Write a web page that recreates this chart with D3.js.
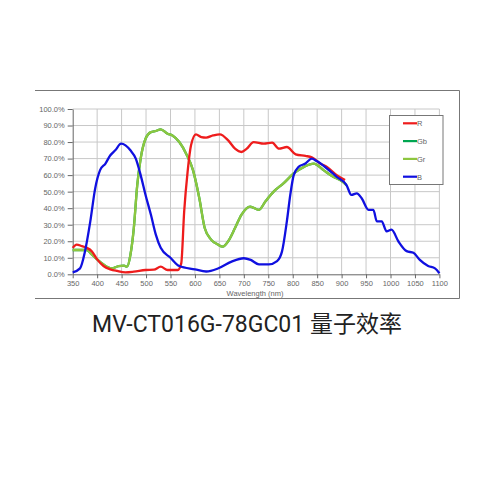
<!DOCTYPE html>
<html>
<head>
<meta charset="utf-8">
<script src="https://cdn.jsdelivr.net/npm/d3@7"></script>
<style>
  body { margin: 0; background: #fff; }
  svg { display: block; }
</style>
</head>
<body>
<div id="chart"></div>
<script>
const wavelengths = [350, 400, 450, 500, 550, 600, 650, 700, 750, 800, 850, 900, 950, 1000, 1050, 1100];
const yTicks = [0, 10, 20, 30, 40, 50, 60, 70, 80, 90, 100];

const blueNm  = [350, 365, 375, 386, 396, 406, 417, 427, 437, 449, 458, 468, 479, 489, 499, 510, 520, 530, 550, 568, 600, 623, 647, 675, 700, 714, 731, 751, 768, 778, 788, 795, 802, 812, 826, 839, 849, 870, 890, 910, 920, 931, 941, 955, 965, 972, 982, 992, 1002, 1016, 1033, 1047, 1060, 1077, 1091, 1100];
const blueQE  = [1.2, 3.6, 13.7, 32, 52, 63, 67, 72, 75, 79, 78, 75, 70, 60, 48, 36, 24, 16, 10, 5, 3, 1.7, 3.5, 7.7, 9.7, 8.7, 6, 6, 8, 13.7, 32, 48, 60, 65, 67, 70, 68.5, 64, 59, 54, 48, 49, 46, 39, 39, 32, 32, 26, 27, 20, 14, 13, 8.7, 5, 3.6, 0.6];

const redNm   = [350, 358, 369, 379, 389, 400, 413, 427, 441, 458, 475, 499, 516, 530, 544, 565, 572, 578, 585, 592, 602, 613, 623, 637, 651, 668, 682, 695, 706, 720, 741, 758, 772, 788, 806, 826, 839, 856, 870, 890, 907];
const redQE   = [16, 18, 17, 16, 14, 9, 5, 3, 2, 1.2, 1.6, 2.6, 2.8, 4.6, 2.6, 2.6, 6.6, 38, 62, 78, 84.7, 83, 82.7, 84, 84.7, 81, 76, 74, 76, 80, 79, 79.6, 76, 77, 72.6, 71.6, 70.8, 67, 65, 60, 57];

const grNm    = [350, 379, 389, 400, 420, 430, 444, 455, 461, 468, 475, 482, 489, 499, 510, 520, 530, 544, 554, 568, 582, 596, 609, 620, 633, 647, 657, 668, 682, 695, 713, 731, 744, 761, 781, 802, 823, 843, 863, 883, 897, 910];
const grQE    = [14.7, 14.7, 12, 9, 4.6, 3.6, 5, 5.2, 4.6, 11.7, 28, 54, 70, 82, 86, 86.7, 87.7, 85, 84, 80, 73, 63, 46, 28, 21, 18, 16.7, 20, 28, 36, 41, 39, 44, 50, 55, 61, 65, 67, 63, 59, 57, 54];

const gbNm    = [350, 379, 389, 400, 420, 430, 444, 455, 461, 468, 475, 482, 489, 499, 510, 520, 530, 544, 554, 568, 582, 596, 609, 620, 633, 647, 657, 668, 682, 695, 713, 731, 744, 761, 781, 802, 823, 843, 863, 883, 897, 910];
const gbQE    = [14.7, 14.7, 12, 9, 4.6, 3.6, 5, 5.2, 4.6, 11.7, 28, 54, 70, 82, 86, 86.7, 87.7, 85, 84, 80, 73, 63, 46, 28, 21, 18, 16.7, 20, 28, 36, 41, 39, 44, 50, 55, 61, 65, 67, 63, 59, 57, 54];

const seriesNames = ['R', 'Gb', 'Gr', 'B'];
const seriesColors = ['#ee1c1c', '#00a651', '#8dc63f', '#1010e0'];

function pairs(xs, ys) {
  return xs.map((x, i) => ({ nm: x, qe: ys[i] }));
}

const svg = d3.select('#chart').append('svg')
  .attr('width', 500)
  .attr('height', 500);

const plotLeft = 72.7, plotRight = 439.4, plotTop = 109, plotBottom = 274.3;

const x = d3.scaleLinear().domain([350, 1100]).range([plotLeft, plotRight]);
const y = d3.scaleLinear().domain([0, 100]).range([plotBottom, plotTop]);

// outer frame (no left edge)
svg.append('path')
  .attr('d', 'M35,90.5 H459.5 V298.5 H35')
  .attr('fill', 'none')
  .attr('stroke', '#777')
  .attr('stroke-width', 1);

// grid
svg.append('g').selectAll('line')
  .data(wavelengths.slice(1, -1))
  .enter()
  .append('line')
  .attr('x1', d => x(d)).attr('x2', d => x(d))
  .attr('y1', plotTop).attr('y2', plotBottom)
  .attr('stroke', '#c8c8c8');

svg.append('g').selectAll('line')
  .data(yTicks.slice(1))
  .enter()
  .append('line')
  .attr('x1', plotLeft).attr('x2', plotRight)
  .attr('y1', d => y(d)).attr('y2', d => y(d))
  .attr('stroke', '#c8c8c8');

svg.append('line')
  .attr('x1', plotRight).attr('x2', plotRight)
  .attr('y1', plotTop).attr('y2', plotBottom)
  .attr('stroke', '#c8c8c8');

// axes
const yAxis = d3.axisLeft(y).tickValues(yTicks).tickSize(5).tickSizeOuter(0)
  .tickFormat(d => d.toFixed(1) + '%');
const xAxis = d3.axisBottom(x).tickValues(wavelengths).tickSize(4).tickSizeOuter(0)
  .tickFormat(d3.format('d'));

const gy = svg.append('g').attr('transform', `translate(${plotLeft},0)`).call(yAxis);
const gx = svg.append('g').attr('transform', `translate(0,${plotBottom})`).call(xAxis);

[gx, gy].forEach(g => {
  g.select('.domain').attr('stroke', '#666');
  g.selectAll('.tick line').attr('stroke', '#666');
  g.selectAll('text')
    .attr('fill', '#666')
    .attr('font-family', 'Liberation Sans, Arial, sans-serif')
    .attr('font-size', '7.5px');
});
gy.selectAll('text').attr('x', -8);
gx.selectAll('text').attr('y', 6);

svg.append('text')
  .attr('x', 255)
  .attr('y', 296)
  .attr('text-anchor', 'middle')
  .attr('fill', '#666')
  .attr('font-family', 'Liberation Sans, Arial, sans-serif')
  .attr('font-size', '7.5px')
  .text('Wavelength  (nm)');

// curves
const line = d3.line()
  .x(d => x(d.nm))
  .y(d => y(d.qe))
  .curve(d3.curveMonotoneX);

const curves = [
  { name: 'Gb', data: pairs(gbNm, gbQE) },
  { name: 'Gr', data: pairs(grNm, grQE) },
  { name: 'R', data: pairs(redNm, redQE) },
  { name: 'B', data: pairs(blueNm, blueQE) }
];

svg.append('g').selectAll('path')
  .data(curves)
  .enter()
  .append('path')
  .attr('d', d => line(d.data))
  .attr('fill', 'none')
  .attr('stroke', d => seriesColors[seriesNames.indexOf(d.name)])
  .attr('stroke-width', 2.3)
  .attr('stroke-linejoin', 'round');

// legend
const legend = svg.append('g');
legend.append('rect')
  .attr('x', 389.5).attr('y', 115.5)
  .attr('width', 53.5).attr('height', 69)
  .attr('fill', '#fff')
  .attr('stroke', '#777');

const legendItem = legend.selectAll('g.item')
  .data(seriesNames)
  .enter()
  .append('g')
  .attr('class', 'item')
  .attr('transform', (d, i) => `translate(0,${123.3 + i * 17.8})`);

legendItem.append('line')
  .attr('x1', 403).attr('x2', 417)
  .attr('stroke', (d, i) => seriesColors[i])
  .attr('stroke-width', 2.2);

legendItem.append('text')
  .attr('x', 417)
  .attr('y', 2.8)
  .attr('fill', '#666')
  .attr('font-family', 'Liberation Sans, Arial, sans-serif')
  .attr('font-size', '7.5px')
  .text(d => d);

// title
svg.append('text')
  .attr('x', 247)
  .attr('y', 332)
  .attr('text-anchor', 'middle')
  .attr('fill', '#222')
  .attr('font-family', 'Roboto, "Noto Sans CJK SC", sans-serif')
  .attr('font-size', '23px')
  .text('MV-CT016G-78GC01 量子效率');
</script>
</body>
</html>
